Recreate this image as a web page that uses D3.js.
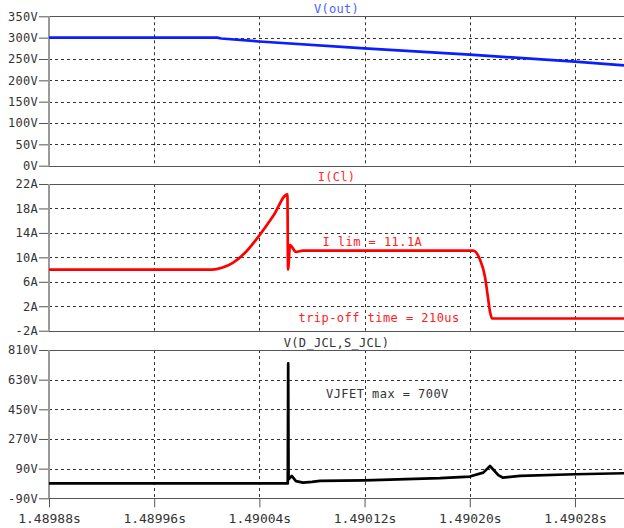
<!DOCTYPE html>
<html>
<head>
  <meta charset="utf-8">
  <style type="text/css">
    body { margin: 0; background: #fff; }
    text { font-family: "DejaVu Sans Mono", "Liberation Mono", monospace; }
  </style>
  <script src="https://d3js.org/d3.v7.min.js"></script>
</head>
<body>
  <div id="chart"></div>
  <script type="text/javascript">
    // time axis (seconds)
    var timeTicks = [1.48988, 1.48996, 1.49004, 1.49012, 1.49020, 1.49028];
    var timeLabels = ["1.48988s", "1.48996s", "1.49004s", "1.49012s", "1.49020s", "1.49028s"];

    // V(out)
    var voutTicks = [0, 50, 100, 150, 200, 250, 300, 350];
    var voutLabels = ["0V", "50V", "100V", "150V", "200V", "250V", "300V", "350V"];
    var voutTime = [1.48988, 1.4900080, 1.4900110, 1.4900400, 1.4901200, 1.4902000, 1.4902800, 1.4903173];
    var voutValues = [300, 300, 298, 291, 275, 260, 244, 235];

    // I(Cl)
    var iclTime = [1.48988, 1.4900040, 1.4900115, 1.4900198, 1.4900302, 1.4900400, 1.4900506, 1.4900613,
                   1.4900618, 1.4900633, 1.4900678, 1.4900730, 1.4902027, 1.4902078, 1.4902116, 1.4902138,
                   1.4902154, 1.4902169, 1.4903173];
    var iclValues = [8, 8, 8.3, 9.1, 11.0, 13.6, 16.8, 20.3,
                     8, 12, 10.9, 11.1, 11.1, 9.6, 6.8, 3.5,
                     1.1, 0, 0];
    var iclTicks = [-2, 2, 6, 10, 14, 18, 22];
    var iclLabels = ["-2A", "2A", "6A", "10A", "14A", "18A", "22A"];

    // V(D_JCL,S_JCL)
    var vdsTicks = [-90, 90, 270, 450, 630, 810];
    var vdsLabels = ["-90V", "90V", "270V", "450V", "630V", "810V"];
    var vdsTime = [1.48988, 1.4900616, 1.4900619, 1.4900622, 1.4900646, 1.4900678, 1.4900732, 1.4900800,
                   1.4900861, 1.4901200, 1.4901773, 1.4902000, 1.4902103, 1.4902154, 1.4902217, 1.4902253,
                   1.4902382, 1.4902800, 1.4903173];
    var vdsValues = [0, 0, 729, 25, 46, 14, 5, 10,
                     16, 19, 32, 42, 66, 106, 51, 35,
                     46, 56, 62];

    function draw() {
      "use strict";
      var width = 624, height = 528,
          left = 49, right = 624;

      var svg = d3.select("#chart")
        .append("svg")
          .attr("width", width)
          .attr("height", height);

      var x = d3.scaleLinear().domain([1.48988, 1.4903173]).range([left, right]);

      var panels = [
        { title: "V(out)", titleColor: "#4a62ff", titleY: 13, top: 16.3, bottom: 165.7,
          domain: [0, 350], ticks: voutTicks, labels: voutLabels,
          t: voutTime, v: voutValues, color: "#0a1eff", curve: d3.curveLinear },
        { title: "I(Cl)", titleColor: "#ff2a2a", titleY: 181, top: 184, bottom: 330.7,
          domain: [-2, 22], ticks: iclTicks, labels: iclLabels,
          t: iclTime, v: iclValues, color: "#ff0000", curve: d3.curveMonotoneX },
        { title: "V(D_JCL,S_JCL)", titleColor: "#333", titleY: 346.5, top: 350, bottom: 498.3,
          domain: [-90, 810], ticks: vdsTicks, labels: vdsLabels,
          t: vdsTime, v: vdsValues, color: "#000", curve: d3.curveLinear }
      ];

      panels.forEach(function(p, k) {
        var y = d3.scaleLinear().domain(p.domain).range([p.bottom, p.top]);
        var g = svg.append("g");

        // clip so the trace stays inside its panel
        svg.append("clipPath").attr("id", "clip" + k)
          .append("rect")
            .attr("x", left).attr("y", p.top - 1)
            .attr("width", right - left).attr("height", p.bottom - p.top + 2);

        // horizontal grid
        g.selectAll(".hgrid")
          .data(p.ticks.filter(function(d) { return d !== p.domain[0] && d !== p.domain[1]; }))
          .enter().append("line")
            .attr("x1", left).attr("x2", right)
            .attr("y1", function(d) { return Math.round(y(d)) + 0.5; })
            .attr("y2", function(d) { return Math.round(y(d)) + 0.5; })
            .attr("stroke", "#333").attr("stroke-width", 1)
            .attr("stroke-dasharray", "3,3");

        // vertical grid
        g.selectAll(".vgrid")
          .data(timeTicks.slice(1))
          .enter().append("line")
            .attr("x1", function(d) { return Math.round(x(d)) + 0.5; })
            .attr("x2", function(d) { return Math.round(x(d)) + 0.5; })
            .attr("y1", p.top).attr("y2", p.bottom)
            .attr("stroke", "#333").attr("stroke-width", 1)
            .attr("stroke-dasharray", "3,3");

        // top and bottom borders
        [p.top, p.bottom].forEach(function(yy) {
          g.append("line")
            .attr("x1", left).attr("x2", right)
            .attr("y1", Math.round(yy) + 0.5).attr("y2", Math.round(yy) + 0.5)
            .attr("stroke", "#555").attr("stroke-width", 1);
        });

        // y axis
        var axis = d3.axisLeft(y)
          .tickValues(p.ticks)
          .tickFormat(function(d, i) { return p.labels[i]; })
          .tickSize(10)
          .tickPadding(1);
        var ag = g.append("g").attr("transform", "translate(" + left + ",0)").call(axis);
        ag.select(".domain").remove();
        ag.selectAll(".tick line").attr("stroke", "#555");
        ag.selectAll(".tick text")
          .attr("fill", "#333")
          .style("font-size", "12px")
          .style("letter-spacing", "0.3px");

        // left axis line
        g.append("line")
          .attr("x1", left).attr("x2", left)
          .attr("y1", p.top).attr("y2", p.bottom)
          .attr("stroke", "#999").attr("stroke-width", 2);

        // title
        g.append("text")
          .attr("x", (left + right) / 2)
          .attr("y", p.titleY)
          .attr("text-anchor", "middle")
          .attr("fill", p.titleColor)
          .style("font-size", "12px")
          .style("letter-spacing", "0.3px")
          .text(p.title);

        // trace
        var line = d3.line()
          .x(function(d) { return x(d[0]); })
          .y(function(d) { return y(d[1]); })
          .curve(p.curve);
        g.append("path")
          .datum(d3.zip(p.t, p.v))
          .attr("clip-path", "url(#clip" + k + ")")
          .attr("d", line)
          .attr("fill", "none")
          .attr("stroke", p.color)
          .attr("stroke-width", 2.7)
          .attr("stroke-linejoin", "round");
      });

      // x axis on the bottom panel
      var last = panels[2];
      var xAxis = d3.axisBottom(x)
        .tickValues(timeTicks)
        .tickFormat(function(d, i) { return timeLabels[i]; })
        .tickSize(9)
        .tickPadding(6);
      var xg = svg.append("g").attr("transform", "translate(0," + last.bottom + ")").call(xAxis);
      xg.select(".domain").remove();
      xg.selectAll(".tick line").attr("stroke", "#555");
      xg.selectAll(".tick text")
        .attr("fill", "#333")
        .style("font-size", "13px");

      // annotations
      function note(txt, px, py, color) {
        svg.append("text")
          .attr("x", px).attr("y", py)
          .attr("fill", color)
          .style("font-size", "12px")
          .style("letter-spacing", "0.45px")
          .text(txt);
      }
      note("I lim = 11.1A", 322.5, 246, "#ff2020");
      note("trip-off time = 210us", 298.5, 321.5, "#ff2020");
      note("VJFET max = 700V", 326, 398, "#333");
    }

    draw();
  </script>
</body>
</html>
